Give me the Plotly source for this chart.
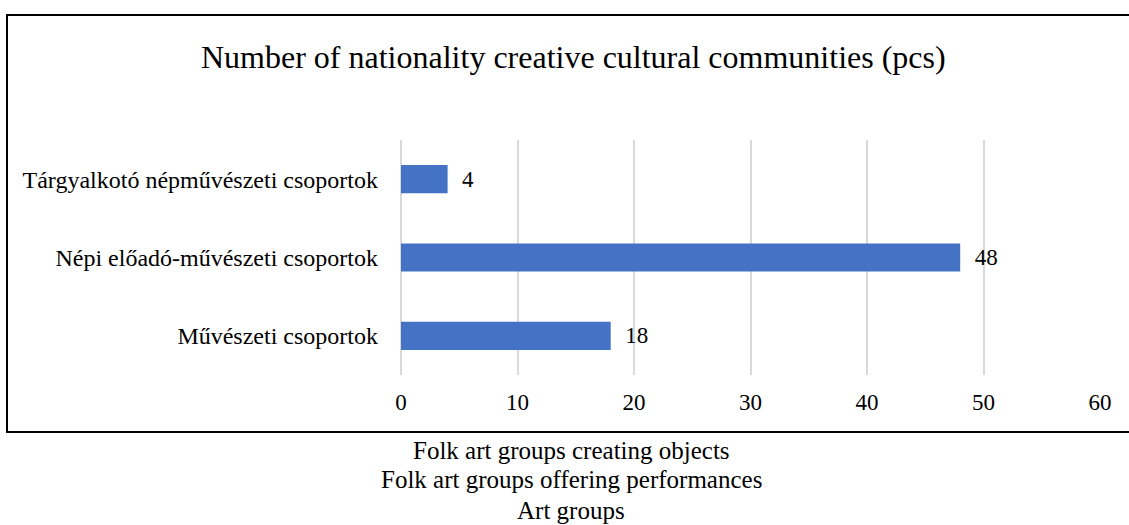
import plotly.graph_objects as go

# Categories listed top to bottom as they appear in the chart
categories = [
    "Tárgyalkotó népművészeti csoportok",
    "Népi előadó-művészeti csoportok",
    "Művészeti csoportok",
]
counts = [4, 48, 18]
x_ticks = [0, 10, 20, 30, 40, 50, 60]
title_text = "Number of nationality creative cultural communities (pcs)"
english_names = [
    "Folk art groups creating objects",
    "Folk art groups offering performances",
    "Art groups",
]

W, H = 1129, 525
ML, MR, MT, MB = 401, 29, 140, 150
PW, PH = W - ML - MR, H - MT - MB
FONT = "Liberation Serif, Times New Roman, serif"


def px_x(px):
    return (px - ML) / PW


def px_y(py):
    return (H - MB - py) / PH


fig = go.Figure(
    go.Bar(
        x=counts,
        y=categories,
        orientation="h",
        marker=dict(color="#4472C4", line=dict(width=0)),
        width=0.36,
        text=counts,
        texttemplate="\u00a0\u00a0%{x}",
        textposition="outside",
        cliponaxis=False,
        textfont=dict(family=FONT, size=23, color="#000000"),
    )
)

fig.update_layout(
    width=W,
    height=H,
    margin=dict(l=ML, r=MR, t=MT, b=MB, pad=0),
    paper_bgcolor="white",
    plot_bgcolor="white",
    showlegend=False,
    font=dict(family=FONT, color="#000000"),
)

fig.update_xaxes(
    range=[0, 60],
    tickvals=x_ticks,
    showgrid=True,
    gridcolor="#D9D9D9",
    gridwidth=1.5,
    zeroline=True,
    zerolinecolor="#D9D9D9",
    zerolinewidth=1.5,
    showline=False,
    ticks="",
    ticklabelstandoff=11,
    tickfont=dict(family=FONT, size=23, color="#000000"),
)

fig.update_yaxes(
    autorange="reversed",
    showgrid=False,
    zeroline=False,
    showline=False,
    ticks="",
    ticklabelstandoff=22,
    tickfont=dict(family=FONT, size=24, color="#000000"),
)

# Chart frame
fig.add_shape(
    type="rect",
    xref="paper",
    yref="paper",
    x0=px_x(7),
    x1=px_x(1135),
    y0=px_y(432),
    y1=px_y(15),
    line=dict(color="#000000", width=2),
    fillcolor="rgba(0,0,0,0)",
    layer="below",
)

# Title
fig.add_annotation(
    text=title_text,
    xref="paper",
    yref="paper",
    x=px_x(573),
    y=px_y(57),
    xanchor="center",
    yanchor="middle",
    showarrow=False,
    font=dict(family=FONT, size=32, color="#000000"),
)

# English category names below the frame
for i, name in enumerate(english_names):
    fig.add_annotation(
        text=name,
        xref="paper",
        yref="paper",
        x=px_x(571),
        y=px_y(450 + 30 * i),
        xanchor="center",
        yanchor="middle",
        showarrow=False,
        font=dict(family=FONT, size=25, color="#000000"),
    )

fig.write_html("out.html")
